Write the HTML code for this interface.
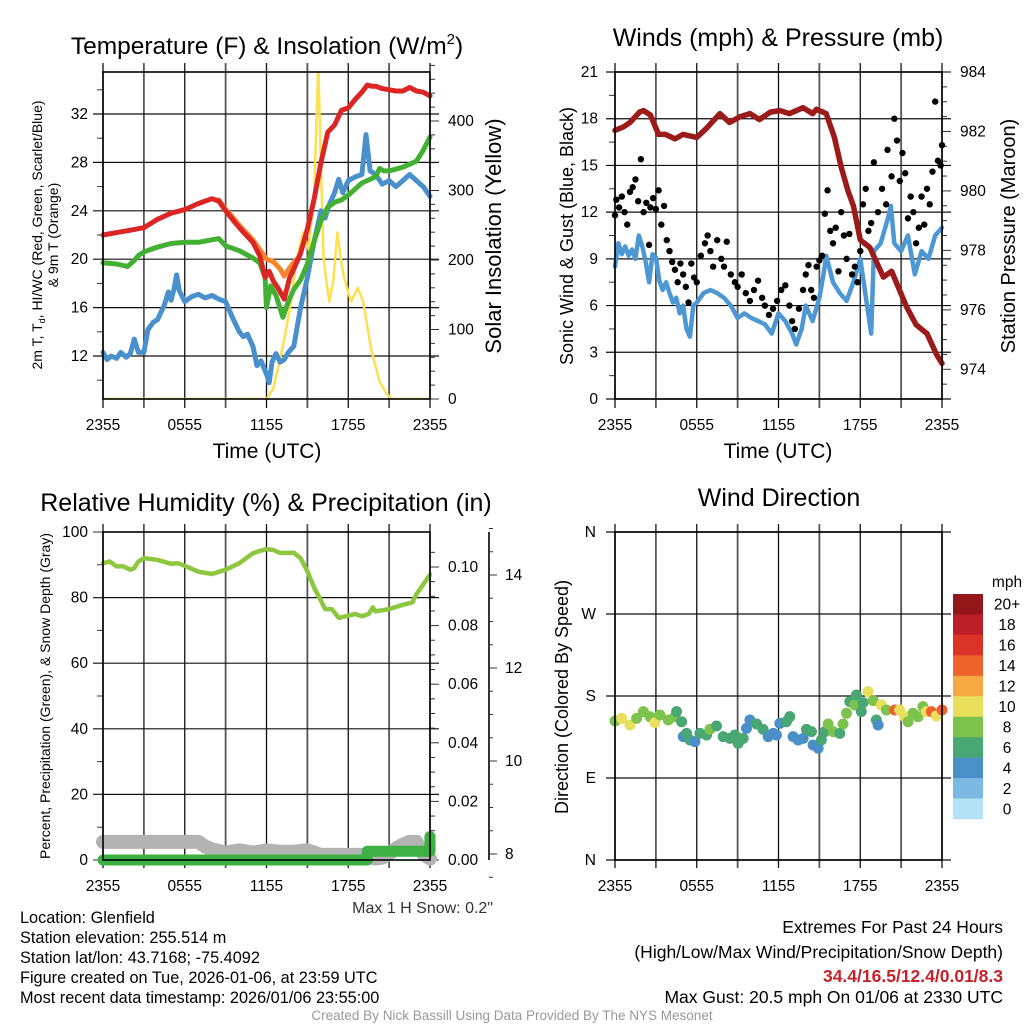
<!DOCTYPE html>
<html><head><meta charset="utf-8"><style>
html,body{margin:0;padding:0;background:#fff;}
svg{display:block;font-family:"Liberation Sans",Arial,sans-serif;}
</style></head><body>
<svg id="chart" width="1024" height="1024" viewBox="0 0 1024 1024">
<defs>
<clipPath id="clip1"><rect x="103" y="72" width="327" height="327"/></clipPath>
</defs>
<g id="g1"></g>
<g id="g2"></g>
<g id="g3"></g>
<g id="g4"></g>

<text x="267" y="54" font-size="24.5" text-anchor="middle">Temperature (F) &amp; Insolation (W/m<tspan font-size="15" dy="-10">2</tspan><tspan dy="10">)</tspan></text>
<text x="778" y="46" font-size="25" text-anchor="middle">Winds (mph) &amp; Pressure (mb)</text>
<text x="266" y="511" font-size="25" text-anchor="middle">Relative Humidity (%) &amp; Precipitation (in)</text>
<text x="779" y="506" font-size="25" text-anchor="middle">Wind Direction</text>

<text x="267" y="458" font-size="21" text-anchor="middle">Time (UTC)</text>
<text x="778" y="458" font-size="21" text-anchor="middle">Time (UTC)</text>

<text transform="translate(42,235) rotate(-90)" font-size="14" text-anchor="middle">2m T, T<tspan font-size="9" dy="3">d</tspan><tspan dy="-3">, HI/WC (Red, Green, Scarlet/Blue)</tspan></text>
<text transform="translate(58,235) rotate(-90)" font-size="14" text-anchor="middle">&amp; 9m T (Orange)</text>
<text transform="translate(501,236) rotate(-90)" font-size="22" text-anchor="middle">Solar Insolation (Yellow)</text>
<text transform="translate(573,236) rotate(-90)" font-size="18" text-anchor="middle">Sonic Wind &amp; Gust (Blue, Black)</text>
<text transform="translate(1015,236) rotate(-90)" font-size="20" text-anchor="middle">Station Pressure (Maroon)</text>
<text transform="translate(50,696) rotate(-90)" font-size="14" text-anchor="middle">Percent, Precipitation (Green), &amp; Snow Depth (Gray)</text>
<text transform="translate(568,697) rotate(-90)" font-size="18" text-anchor="middle">Direction (Colored By Speed)</text>

<text x="493" y="913" font-size="16" fill="#333" text-anchor="end">Max 1 H Snow: 0.2"</text>

<g font-size="16.3">
<text x="20" y="923">Location: Glenfield</text>
<text x="20" y="943">Station elevation: 255.514 m</text>
<text x="20" y="963">Station lat/lon: 43.7168; -75.4092</text>
<text x="20" y="983">Figure created on Tue, 2026-01-06, at 23:59 UTC</text>
<text x="20" y="1003">Most recent data timestamp: 2026/01/06 23:55:00</text>
</g>
<g font-size="17.5" text-anchor="end">
<text x="1003" y="933">Extremes For Past 24 Hours</text>
<text x="1003" y="958">(High/Low/Max Wind/Precipitation/Snow Depth)</text>
<text x="1003" y="982" fill="#c8202a" font-weight="bold">34.4/16.5/12.4/0.01/8.3</text>
<text x="1003" y="1003">Max Gust: 20.5 mph On 01/06 at 2330 UTC</text>
</g>
<text x="512" y="1020" font-size="13.5" fill="#999" text-anchor="middle">Created By Nick Bassill Using Data Provided By The NYS Mesonet</text>
</svg>
<script>
// ---------- data ----------
const xTickLabels = ["2355","0555","1155","1755","2355"];
// Panel 1 (hours since 2355, value)
const tempH = [0,1,2,3,4,5,6,7,8,8.5,9,9.5,10,10.5,11,11.5,11.9,12.2,12.5,12.9,13.3,13.7,14,14.5,15,15.5,16,16.5,17,17.5,18,18.5,19,19.4,19.7,20,20.5,21,21.5,22,22.5,23,23.5,24];
const tempV = [22,22.2,22.4,22.6,23.3,23.8,24.1,24.6,25,24.8,24,23.3,22.6,22,21.4,20.3,18.5,19,18.2,17.5,16.7,18.5,19.2,20.5,22.5,25,28,30.5,31.1,32.3,32.5,33.2,33.8,34.4,34.3,34.3,34.1,34,33.9,33.9,34.2,33.9,33.8,33.5];
const orangeH = [8.5,9,9.5,10,10.5,11,11.5,12,12.5,13,13.3,13.7,14.2];
const orangeV = [24.9,24.1,23.5,22.8,22.2,21.6,20.8,20,19.8,19.2,18.6,19.3,20];
const dewH = [0,1,1.8,2.3,2.6,3,4,5,6,7,8,8.5,9,10,11,11.5,11.9,12,12.3,12.7,13.2,13.6,14,14.5,15,15.5,16,16.5,17,17.5,18,19,20,20.3,20.6,21,22,23,23.5,24];
const dewV = [19.7,19.6,19.4,19.9,20.3,20.6,21,21.3,21.4,21.4,21.6,21.7,21.1,20.7,20.1,19.7,18.5,16,17.8,17,15.2,16.5,17.5,18.3,19.6,21.5,23.2,24.3,24.7,24.9,25.3,26.3,26.8,27.5,27.3,27.3,27.6,28.1,29,30.1];
const wcH = [0,0.3,0.6,1,1.3,1.7,2,2.3,2.6,3,3.3,3.7,4,4.5,4.8,5,5.2,5.4,5.6,6,6.5,7,7.5,8,8.5,9,9.5,10,10.3,10.6,11,11.3,11.6,12,12.2,12.4,12.7,13,13.3,13.6,14,14.5,15,15.5,16,16.3,16.6,17,17.3,17.6,18,18.5,19,19.3,19.6,20,20.5,21,21.5,22,22.5,23,23.5,24];
const wcV = [12.3,11.7,12,11.8,12.3,11.9,12.2,13.4,12.3,12.3,14.2,14.8,15,16.2,17.3,16.6,17.5,18.7,17.4,16.5,16.9,17.1,16.8,17,16.7,16.5,15.2,14,13.6,13.8,12.8,11.2,11.6,10.5,9.8,11.5,12.2,11.5,11.7,12.3,12.8,16,18.5,21.5,24,23.4,24.5,25.5,26.6,25.5,26.5,26.8,27,30.3,27.3,27,26.2,26.5,26,26.5,27,26.5,26,25.2];
const solarH = [0,12,12.5,12.9,13.3,13.8,14.2,14.7,15.1,15.5,15.8,16,16.2,16.6,16.9,17.2,17.5,17.7,18.2,18.7,19.1,19.7,20.3,20.8,21.2,24];
const solarV = [0,0,15,50,85,140,200,240,215,300,483,330,200,140,170,240,195,175,140,160,140,70,25,8,0,0];
// Panel 2
const windH = [0,0.25,0.5,0.75,1,1.25,1.5,1.75,2,2.25,2.5,2.75,3,3.25,3.5,3.75,4,4.25,4.5,4.75,5,5.25,5.5,5.75,6,6.5,7,7.5,8,8.5,9,9.5,10,10.5,11,11.5,12,12.5,13,13.3,13.7,14,14.5,15,15.3,15.5,16,16.5,17,17.5,18,18.5,18.8,19,19.5,20,20.25,20.5,21,21.5,22,22.5,23,23.5,24];
const windV = [8.5,10,9.3,9.8,9.2,9.6,9,10.5,9.8,8.8,7.5,9.3,9.1,7.6,7,7.5,6.8,6.2,6.5,5.5,6,4.5,4,6,6.2,6.8,7,6.8,6.5,6,5.2,5.5,5.2,5,4.8,4.2,5.5,5,4.2,3.5,4.5,6,5,6.5,8,9.2,7.5,6.8,6.3,7.5,9,6,4.2,9.5,10,11.5,12.4,10,9.5,10.5,8,9.5,9,10.5,11];
const gustH = [0,0.1,0.3,0.5,0.7,0.9,1.1,1.3,1.5,1.7,1.9,2.1,2.3,2.5,2.6,2.8,3,3.2,3.4,3.6,3.8,4,4.2,4.4,4.6,4.8,5,5.2,5.4,5.6,5.8,6,6.3,6.6,6.8,7,7.2,7.5,7.8,8,8.2,8.5,8.8,9,9.3,9.6,9.9,10.2,10.5,10.8,11,11.3,11.6,11.9,12.2,12.5,12.8,13,13.2,13.5,13.8,14,14.2,14.4,14.6,14.8,15,15.2,15.4,15.6,15.8,16,16.2,16.4,16.6,16.8,17,17.2,17.4,17.6,17.8,18,18.2,18.4,18.6,18.8,19,19.3,19.6,19.9,20,20.3,20.5,20.7,20.9,21.1,21.3,21.5,21.7,21.9,22.1,22.3,22.5,22.7,22.9,23.1,23.3,23.5,23.7,23.9,24];
const gustV = [11.8,12.8,12.3,13,12,11.2,13.3,13.6,14.1,12.7,15.4,12,12.6,9.9,12.3,12.9,12.2,13.4,11.2,12.4,10.2,9.5,8.8,8.3,7.5,8.7,8,7.2,6.2,8.7,7.8,7.5,9.2,10,10.5,9.5,8.5,10.2,9,8.5,10.1,8,7.5,7.2,8,6.8,6.3,7,7.6,6.5,6,5.4,5.8,6.3,7,7.3,6,5,4.5,5.8,7,8,8.6,7,6.5,8.5,8.9,9.2,11.9,13.4,10.8,10,11,8.2,12,10.5,9,10.6,8,8.5,7.5,9.5,12.5,13.5,10.8,11.3,15.2,12,13.5,12.5,16,14.3,18,16.6,14,15.8,14.5,11.6,13,12,10,11,13,11.2,13.5,12.5,14.6,19.1,15.3,15,16.3];
const presH = [0,0.6,1.1,1.8,2.1,2.6,3.2,3.7,4.4,5,6,6.7,7.7,8.4,9.2,9.9,10.6,11.4,12.1,12.8,13.8,14.5,14.8,15.5,16.1,16.6,17.1,17.5,18,18.7,19.7,20.3,21.4,22.1,22.9,23.6,24];
const presV = [982.04,982.15,982.3,982.65,982.7,982.55,981.9,981.9,981.75,981.9,981.8,982.1,982.6,982.3,982.5,982.6,982.4,982.65,982.7,982.6,982.8,982.6,982.75,982.6,981.8,980.8,980.0,979.5,978.35,978.1,977.1,977.3,976.1,975.5,975.2,974.5,974.2];
// Panel 3
const rhH = [0,0.5,1,1.5,2,2.3,2.6,3,4,5,5.5,6,7,8,9,10,11,11.5,12,12.5,13,14,14.5,15,15.5,16,16.3,16.8,17.3,18,18.5,19,19.5,19.8,20,21,22,22.7,23,23.5,24];
const rhV = [90.5,91,89.5,89.5,88.5,89,91,92,91.5,90.3,90.5,89.7,87.9,87.2,88.5,90.5,93.5,94.2,94.8,94.5,93.6,93.7,92,88,83,79,76.5,76.5,73.8,74.5,75,74.3,75,77,75.8,76.5,77.8,78.5,81,84,87];
const snowH = [0,7,7.5,8,9,10,11,12,13,14,15,16,17,18,19,20,20.5,21,21.5,22,22.5,23,23.5,24];
const snowV = [8.26,8.26,8.16,8.1,8.03,8.08,8.03,8.08,8.05,8.05,8.08,7.98,7.98,7.98,7.98,7.9,7.92,8.0,8.12,8.2,8.26,8.26,8.0,7.9];
const precipH = [0,19.4,19.4,24,24];
const precipV = [0,0,0.003,0.003,0.008];
// Panel 4
const dirH = [0,0.49,1.1,1.59,2.08,2.57,2.93,3.3,3.91,4.4,4.52,4.89,5.01,5.25,5.5,5.87,6.23,6.72,6.96,7.45,7.94,8.43,8.8,9.04,9.41,9.65,9.9,10.39,10.87,11.24,11.61,11.85,12.1,12.58,12.83,13.07,13.44,13.81,14.05,14.42,14.54,14.91,15.15,15.4,15.64,16.01,16.5,16.74,16.99,17.23,17.6,17.72,18.08,18.21,18.57,18.94,19.18,19.31,19.55,19.92,20.53,20.89,21.26,21.51,21.87,22.24,22.6,22.85,23.22,23.58,24];
const dirV = [152.6,155.5,148.2,155.5,162.8,157.3,150.8,159.2,153.7,157.3,162.8,151.8,135.4,139,131.7,129.9,139,137.2,143.4,147.1,135.4,133.5,137.2,128,133.5,144.5,153.7,149.3,143.4,135.4,139,137.2,150,151.8,157.3,135.4,131.7,133.5,143.4,140.9,126.2,122.6,131.7,140.9,149.3,140.9,139,149.3,161,173.8,170.1,181.1,162.8,172.7,184.8,175,153.7,148.2,170.1,164.6,164.6,164.6,157.3,151.8,161,157.3,168.3,162.8,162.8,158.1,164.6];
const dirSpd = [8,10,10,8,8,8,10,8,8,8,6,6,4,6,6,4,6,6,8,6,6,6,6,6,6,4,4,6,6,4,4,4,4,6,6,4,4,4,6,6,4,4,6,6,8,8,6,8,8,6,8,6,6,6,10,8,6,4,10,8,14,10,10,8,8,8,8,10,14,10,14];
const cbLabels = ["20+","18","16","14","12","10","8","6","4","2","0"];
const cbColors = ["#92161a","#bd1e27","#dc3328","#ee632c","#f5a945","#e8df5c","#7dc24c","#48a773","#4a8fc7","#7bb9e3","#b5e2f6"];

// ---------- helpers ----------
const NS="http://www.w3.org/2000/svg";
function mk(parent,tag,attrs){const e=document.createElementNS(NS,tag);for(const k in attrs)e.setAttribute(k,attrs[k]);parent.appendChild(e);return e;}
function lin(d0,d1,r0,r1){return v=>r0+(v-d0)*(r1-r0)/(d1-d0);}
function pathD(xs,ys,fx,fy){return xs.map((h,i)=>(i?"L":"M")+fx(h).toFixed(1)+","+fy(ys[i]).toFixed(1)).join("");}
function speedColor(s){const i=Math.min(10,Math.max(0,Math.round(s/2)));return cbColors[10-i];}

function frame(g,L,R,T,B,vTop,vBot){
  const fx=lin(0,24,L,R);
  for(let h=0;h<=24;h+=3){
    const l=mk(g,"line",{x1:fx(h),x2:fx(h),y1:vTop,y2:vBot,stroke:(h%6===0)?"#111":"#555","stroke-width":(h%6===0)?1.3:1.8});
    
    
  }
  xTickLabels.forEach((t,i)=>{
    const e=mk(g,"text",{x:fx(i*6),y:B+31,"font-size":15.5,"text-anchor":"middle"});
    e.textContent=t;
    
    
  });
  return fx;
}
function box(g,L,R,T,B){const r=mk(g,"rect",{x:L,y:T,width:R-L,height:B-T,fill:"none",stroke:"#000","stroke-width":1.6});
  
  }
function hgrid(g,y,x1,x2){const l=mk(g,"line",{x1:x1,x2:x2,y1:y,y2:y,stroke:"#111","stroke-width":1.2});
  
  }
function ytext(g,x,y,t,anchor,size){const e=mk(g,"text",{x:x,y:y+5,"font-size":size||15.5,"text-anchor":anchor});e.textContent=t;
  
  }
function tick(g,x1,x2,y){mk(g,"line",{x1:x1,x2:x2,y1:y,y2:y,stroke:"#333","stroke-width":1});}
function line(g,xs,ys,fx,fy,color,w,name,clip){const p=mk(g,"path",{d:pathD(xs,ys,fx,fy),fill:"none",stroke:color,"stroke-width":w,"stroke-linejoin":"round","stroke-linecap":"round"});
  if(clip)p.setAttribute("clip-path",clip);
  
  return p;}

// ---------- Panel 1 ----------
(function(){
  const g=document.getElementById("g1");const L=103,R=430,T=72,B=399;
  const fx=frame(g,L,R,T,B,63,408);
  const fy=lin(12,32,356,114), fs=lin(0,400,399,121);
  [12,16,20,24,28,32].forEach(v=>{hgrid(g,fy(v),93,439);ytext(g,88,fy(v),String(v),"end");});
  for(let v=10;v<=34;v+=2)if(v%4)tick(g,97,103,fy(v));
  [0,100,200,300,400].forEach(v=>{tick(g,430,439,fs(v));ytext(g,448,fs(v),String(v),"start");});
  for(let v=20;v<=480;v+=20)if(v%100)tick(g,430,435,fs(v));
  line(g,solarH,solarV,fx,fs,"#fde050",2.5,"solar-insolation-line","url(#clip1)");
  line(g,wcH,wcV,fx,fy,"#4a90cd",5,"windchill-line");
  line(g,dewH,dewV,fx,fy,"#43b034",5,"dewpoint-line");
  line(g,orangeH,orangeV,fx,fy,"#f5862e",5,"9m-temp-line");
  line(g,tempH,tempV,fx,fy,"#dc2626",5,"2m-temp-line");
  box(g,L,R,T,B);
})();

// ---------- Panel 2 ----------
(function(){
  const g=document.getElementById("g2");const L=615,R=942,T=72,B=399;
  const fx=frame(g,L,R,T,B,63,408);
  const fy=lin(0,21,399,72), fp=lin(974,984,369.3,72);
  for(let v=0;v<=21;v+=3){hgrid(g,fy(v),606,951);ytext(g,598,fy(v),String(v),"end");}
  for(let v=1.5;v<21;v+=3)tick(g,609,615,fy(v));
  for(let v=974;v<=984;v+=2){tick(g,942,951,fp(v));ytext(g,960,fp(v),String(v),"start");}
  for(let v=973.5;v<=984;v+=0.5)if(v%2)tick(g,942,947,fp(v));
  line(g,windH,windV,fx,fy,"#4d98d4",4.5,"sonic-wind-line");
  gustH.forEach((h,i)=>{const c=mk(g,"circle",{cx:fx(h),cy:fy(gustV[i]),r:3.2,fill:"#000"});
    
    });
  line(g,presH,presV,fx,fp,"#9b1b1b",5.5,"pressure-line");
  box(g,L,R,T,B);
})();

// ---------- Panel 3 ----------
(function(){
  const g=document.getElementById("g3");const L=103,R=430,T=532,B=860;
  const fx=frame(g,L,R,T,B,524,868);
  const fy=lin(0,100,860,532), fpr=lin(0,0.1,860,567), fsn=lin(8,14,854,575);
  [0,20,40,60,80,100].forEach(v=>{if(v>0&&v<100)hgrid(g,fy(v),93,439);tick(g,93,103,fy(v));ytext(g,88,fy(v),String(v),"end");});
  for(let v=10;v<100;v+=20)tick(g,97,103,fy(v));
  for(let v=0;v<=0.1001;v+=0.02){tick(g,430,439,fpr(v));ytext(g,448,fpr(v),v.toFixed(2),"start");}
  for(let v=0.005;v<0.11;v+=0.005)if(Math.round(v*1000)%20)tick(g,430,435,fpr(v));
  mk(g,"line",{x1:489,x2:489,y1:532,y2:860,stroke:"#000","stroke-width":1.6});
  [8,10,12,14].forEach(v=>{tick(g,489,497,fsn(v));ytext(g,505,fsn(v),String(v),"start");});
  for(let v=7.5;v<=15;v+=0.5)if(v%2)tick(g,489,493,fsn(v));
  line(g,snowH,snowV,fx,fsn,"#b3b3b3",14,"snow-depth-line");
  line(g,precipH,precipV,fx,fpr,"#3cb043",11,"precip-line");
  line(g,rhH,rhV,fx,fy,"#8dc63f",4.5,"humidity-line");
  box(g,L,R,T,B);
})();

// ---------- Panel 4 ----------
(function(){
  const g=document.getElementById("g4");const L=615,R=942,T=532,B=860;
  const fx=frame(g,L,R,T,B,524,868);
  const fd=lin(0,360,860,532);
  ["N","E","S","W","N"].forEach((t,i)=>{hgrid(g,fd(i*90),606,951);ytext(g,596,fd(i*90),t,"end");});
  dirH.forEach((h,i)=>{const c=mk(g,"circle",{cx:fx(h),cy:fd(dirV[i]),r:5.5,fill:speedColor(dirSpd[i])});
    
    });
  const cb=mk(g,"g",{});
  
  
  const h=225/11;
  cbColors.forEach((c,i)=>{const r=mk(cb,"rect",{x:953,y:594+i*h,width:30,height:h+0.3,fill:c});
    
    
    const t=mk(cb,"text",{x:1007,y:594+i*h+h/2+5.5,"font-size":15.5,"text-anchor":"middle"});t.textContent=cbLabels[i];
    
    });
  const u=mk(cb,"text",{x:1007,y:587,"font-size":15.5,"text-anchor":"middle"});u.textContent="mph";
  
  
  box(g,L,R,T,B);
})();
</script>
</body></html>
